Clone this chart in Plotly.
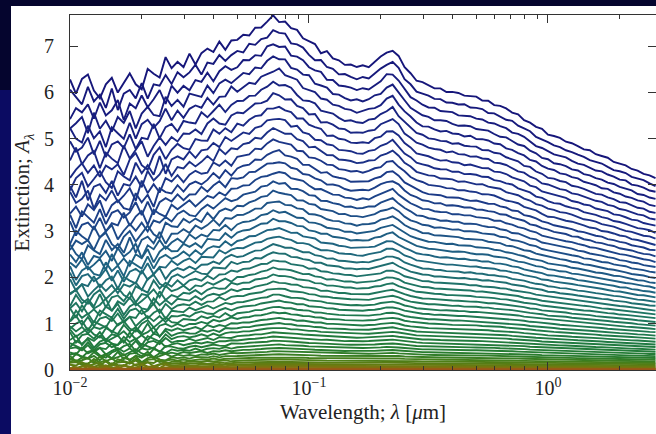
import numpy as np
import plotly.graph_objects as go

# ---------------- data ----------------
# log10(wavelength/um) grid start and step of the sampled curves
log_lambda_start = -2.0
log_lambda_step = 0.025

# uppermost curve (smooth trend), extinction A_lambda
top_curve = [
    6.20, 6.18, 6.16, 6.15, 6.14, 6.13, 6.12, 6.13, 6.15, 6.17,
    6.20, 6.25, 6.30, 6.35, 6.40, 6.45, 6.50, 6.55, 6.60, 6.65,
    6.70, 6.75, 6.80, 6.87, 6.93, 6.99, 7.04, 7.09, 7.14, 7.20,
    7.27, 7.34, 7.42, 7.52, 7.60, 7.58, 7.50, 7.40, 7.30, 7.20,
    7.10, 7.00, 6.90, 6.82, 6.75, 6.68, 6.62, 6.58, 6.55, 6.55,
    6.58, 6.65, 6.75, 6.87, 6.92, 6.75, 6.55, 6.40, 6.28, 6.20,
    6.15, 6.10, 6.06, 6.03, 6.00, 5.97, 5.94, 5.91, 5.88, 5.84,
    5.80, 5.75, 5.70, 5.64, 5.57, 5.50, 5.42, 5.34, 5.26, 5.18,
    5.10, 5.05, 5.00, 4.95, 4.89, 4.84, 4.78, 4.73, 4.67, 4.62,
    4.57, 4.51, 4.46, 4.41, 4.35, 4.30, 4.25, 4.20, 4.15,
]

# short-wavelength part (up to the 0.07 um peak) of a mid-level curve, relative to its peak
low_curve_left_shape = [
    0.60, 0.605, 0.61, 0.615, 0.62, 0.63, 0.64, 0.645, 0.65, 0.66,
    0.67, 0.68, 0.69, 0.70, 0.71, 0.72, 0.735, 0.75, 0.76, 0.77,
    0.78, 0.79, 0.80, 0.815, 0.83, 0.845, 0.86, 0.875, 0.89, 0.905,
    0.92, 0.94, 0.955, 0.975, 1.00,
]

# jitter pattern (hand-read wiggle, unit amplitude)
jitter = [
    0.3, -0.8, 0.5, 0.9, -0.4, -1.0, 0.2, 0.7, -0.6, 0.1,
    0.8, -0.3, -0.9, 0.6, 0.0, -0.5, 1.0, -0.2, 0.4, -0.7,
    0.9, -1.0, 0.3, 0.5, -0.4, 0.7, -0.8, 0.2, -0.1, 0.6,
    -0.6, 0.8, -0.3, 0.1, 0.9, -0.9, 0.4, -0.2, 0.7, -0.5,
    0.0, 0.6, -0.8, 1.0, -0.4, 0.3, -0.7, 0.5, -0.1, 0.8,
    -0.9, 0.2, 0.6, -0.3, -0.6, 0.9, -0.2, 0.4, -1.0, 0.7,
    0.1, -0.5, 0.8, -0.8, 0.3, 0.5, -0.4, 0.0, 0.9, -0.6,
    0.6, -0.9, 0.2, 0.4, -0.3, 0.8, -0.7, 0.1, -0.2, 1.0,
    -0.5, 0.3, 0.7, -0.9, 0.5, -0.1, -0.6, 0.9, -0.4, 0.2,
    0.8, -0.8, 0.0, 0.6, -0.3, 0.4, -0.7, 0.3, -0.1,
]

# wiggle of the curves by wavelength band:
# upper log10 edge, amplitude on the top curve, how fast it shrinks for lower curves
noise_band_edge = [-1.6, -1.3, -0.9, -0.6, 0.0, 0.5]
noise_band_amp = [0.26, 0.15, 0.07, 0.04, 0.03, 0.02]
noise_band_exp = [0.4, 0.65, 1.0, 1.0, 1.0, 1.0]

# peak extinction of each curve (top to bottom)
peak_values = [
    7.60, 7.31, 7.03, 6.75, 6.48, 6.21, 5.95, 5.69, 5.44, 5.20,
    4.96, 4.72, 4.50, 4.28, 4.06, 3.85, 3.64, 3.44, 3.25, 3.06,
    2.88, 2.70, 2.53, 2.36, 2.20, 2.05, 1.90, 1.76, 1.62, 1.49,
    1.36, 1.24, 1.12, 1.01, 0.91, 0.81, 0.72, 0.63, 0.55, 0.475,
    0.405, 0.34, 0.28, 0.228, 0.18, 0.138, 0.101, 0.070, 0.045, 0.025,
    0.011, 0.003,
]

x_tick_values = [0.01, 0.1, 1.0]
x_tick_labels = ["10<sup>\u22122</sup>", "10<sup>\u22121</sup>", "10<sup>0</sup>"]
y_tick_values = [0, 1, 2, 3, 4, 5, 6, 7]

# ---------------- styling ----------------
color_stops = [  # (peak extinction, colour)
    (7.6, "#16167a"), (5.5, "#1a2b86"), (4.0, "#1d4a88"), (3.0, "#1f6680"),
    (2.2, "#1f7563"), (1.2, "#1f7a48"), (0.5, "#267c30"), (0.25, "#4a7f18"),
    (0.1, "#6f7a10"), (0.03, "#8f6a12"), (0.003, "#9a5518"),
]


def hex2rgb(h):
    h = h.lstrip("#")
    return np.array([int(h[i:i + 2], 16) for i in (0, 2, 4)], dtype=float)


def color_for(s):
    ls = np.log10(s)
    xs = [np.log10(v) for v, _ in color_stops][::-1]
    cs = [hex2rgb(c) for _, c in color_stops][::-1]
    rgb = [np.interp(ls, xs, [c[i] for c in cs]) for i in range(3)]
    return "rgb(%d,%d,%d)" % tuple(int(round(v)) for v in rgb)


n = len(top_curve)
log_lam = np.array([log_lambda_start + log_lambda_step * i for i in range(n)])
lam = 10 ** log_lam
band = np.array([min(np.searchsorted(noise_band_edge, v), len(noise_band_edge) - 1) for v in log_lam])
amp = np.array(noise_band_amp)[band]
expo = np.array(noise_band_exp)[band]
top = np.array(top_curve)
s_top = peak_values[0]
top_shape = top / s_top
low_shape = top_shape.copy()
low_shape[:len(low_curve_left_shape)] = low_curve_left_shape

fig = go.Figure()
for k, s in enumerate(peak_values):
    frac = s / s_top
    shape = frac * top_shape + (1 - frac) * low_shape
    jit = np.array([jitter[(i + 13 * k) % len(jitter)] for i in range(n)])
    y = s * shape + jit * amp * frac ** expo
    y = np.maximum(y, 0.01)
    fig.add_trace(go.Scatter(
        x=lam, y=y, mode="lines",
        line=dict(color=color_for(s), width=1.9),
        showlegend=False, hoverinfo="skip",
    ))

font_family = "Liberation Serif, DejaVu Serif, serif"
minor_vals = [m * d for d in (0.01, 0.1, 1.0) for m in range(2, 10) if m * d < 3]

fig.update_layout(
    width=656, height=434,
    margin=dict(l=70, r=0, t=15, b=64),
    paper_bgcolor="#05052e",
    plot_bgcolor="white",
    font=dict(family=font_family, size=20, color="#222"),
    shapes=[
        dict(type="rect", xref="paper", yref="paper",
             x0=(11 - 70) / 586, x1=1.05, y0=(370 - 434) / 355 - 0.01, y1=(370 - 6) / 355,
             fillcolor="white", line=dict(width=0), layer="below"),
        dict(type="rect", xref="paper", yref="paper",
             x0=(0 - 70) / 586, x1=(11 - 70) / 586, y0=(370 - 434) / 355 - 0.01, y1=(370 - 90) / 355,
             fillcolor="#0b0b62", line=dict(width=0), layer="below"),
    ],
    xaxis=dict(
        type="log", range=[-2, 0.452],
        tickmode="array", tickvals=x_tick_values, ticktext=x_tick_labels,
        ticks="inside", ticklen=8, tickcolor="#333", tickwidth=1,
        showline=True, linecolor="#333", linewidth=1, mirror="allticks",
        showgrid=False, zeroline=False,
        minor=dict(tickmode="array", tickvals=minor_vals, ticks="inside", ticklen=4, tickcolor="#333", showgrid=False),
        tickfont=dict(size=20),
        title=dict(text="Wavelength; <i>\u03bb</i> [<i>\u03bc</i>m]", font=dict(size=21), standoff=6),
    ),
    yaxis=dict(
        range=[0, 7.67],
        tickmode="array", tickvals=y_tick_values,
        ticks="inside", ticklen=8, tickcolor="#333", tickwidth=1,
        showline=True, linecolor="#333", linewidth=1, mirror="allticks",
        showgrid=False, zeroline=False,
        tickfont=dict(size=20), ticklabelstandoff=11,
        title=dict(text="Extinction; <i>A</i><sub><i>\u03bb</i></sub>", font=dict(size=21), standoff=8),
    ),
)

fig.write_html("out.html")
